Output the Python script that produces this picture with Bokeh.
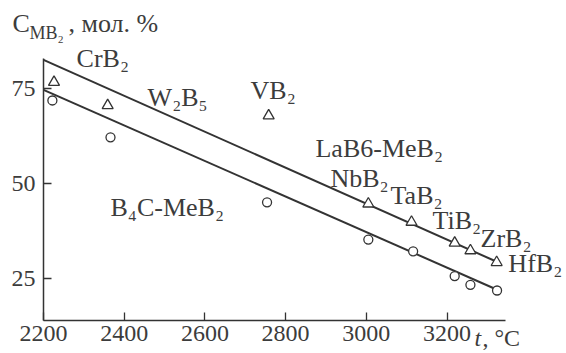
from bokeh.plotting import figure
from bokeh.models import Label, Range1d, FixedTicker
from bokeh.embed import file_html
from bokeh.resources import INLINE

# LaB6-MeB2 system (triangles)
lab6_temp = [2226, 2359, 2758, 3005, 3112, 3219, 3258, 3323]
lab6_conc = [76.6, 70.5, 67.8, 44.6, 39.8, 34.3, 32.3, 29.2]
# B4C-MeB2 system (circles)
b4c_temp = [2222, 2366, 2754, 3005, 3116, 3219, 3258, 3324]
b4c_conc = [71.8, 62.1, 45.0, 35.2, 32.1, 25.6, 23.3, 21.8]
# fitted lines
lab6_fit_temp = [2200, 3333]
lab6_fit_conc = [82.5, 28.9]
b4c_fit_temp = [2200, 3320]
b4c_fit_conc = [74.6, 22.2]

x_ticks = [2200, 2400, 2600, 2800, 3000, 3200]
y_ticks = [25, 50, 75]
x_axis_span = (2200, 3345)
y_axis_span = (13.9, 82.8)

label_texts = ["CrB₂", "W₂B₅", "VB₂", "LaB6-MeB₂", "NbB₂", "TaB₂", "TiB₂",
               "ZrB₂", "HfB₂", "B₄C-MeB₂"]
label_x = [2282, 2458, 2713, 2874, 2911, 3060, 3164, 3283, 3352, 2366]
label_y = [82.8, 72.6, 74.4, 59.2, 51.3, 46.8, 40.2, 35.5, 28.9, 43.6]

FONT = "Liberation Serif"
TXT = "#3c3c3c"
INK = "#333333"
FS = "26px"
TICK_FS = "24px"

# frame covers the whole canvas; axes are pinned inside it
p = figure(width=566, height=353,
           x_range=Range1d(2093.4, 3496.1), y_range=Range1d(5.22, 98.11),
           output_backend="svg", toolbar_location=None,
           min_border_left=0, min_border_right=0,
           min_border_top=0, min_border_bottom=0)
p.title.visible = False
p.outline_line_color = None
p.xgrid.visible = False
p.ygrid.visible = False
p.background_fill_color = "white"
p.border_fill_color = "white"

for ax in (p.xaxis[0], p.yaxis[0]):
    ax.axis_line_color = INK
    ax.axis_line_width = 1.5
    ax.major_tick_line_color = INK
    ax.major_tick_line_width = 1.3
    ax.major_tick_in = 8
    ax.major_tick_out = 0
    ax.minor_tick_line_color = None
    ax.major_label_text_font = FONT
    ax.major_label_text_font_size = TICK_FS
    ax.major_label_text_color = TXT
p.xaxis.ticker = FixedTicker(ticks=x_ticks)
p.yaxis.ticker = FixedTicker(ticks=y_ticks)
p.xaxis.fixed_location = y_axis_span[0]
p.yaxis.fixed_location = x_axis_span[0]
p.xaxis.bounds = x_axis_span
p.yaxis.bounds = y_axis_span
p.xaxis.major_label_standoff = 5
p.yaxis.major_label_standoff = 8

p.line(lab6_fit_temp, lab6_fit_conc, line_color=INK, line_width=2)
p.line(b4c_fit_temp, b4c_fit_conc, line_color=INK, line_width=2)
p.scatter(lab6_temp, lab6_conc, marker="triangle", size=11,
          fill_color="white", line_color=INK, line_width=1.3)
p.scatter(b4c_temp, b4c_conc, marker="circle", size=9,
          fill_color="white", line_color=INK, line_width=1.3)

for t, x, y in zip(label_texts, label_x, label_y):
    p.add_layout(Label(x=x, y=y, text=t, text_font=FONT, text_font_size=FS,
                       text_color=TXT, text_align="left", text_baseline="middle"))

# axis titles (screen units, frame = whole canvas)
def screen_label(x, y, text, size=FS, style="normal"):
    p.add_layout(Label(x=x, y=y, x_units="screen", y_units="screen", text=text,
                       text_font=FONT, text_font_size=size, text_font_style=style,
                       text_color=TXT, text_align="left", text_baseline="middle"))

screen_label(12, 330, "C")
screen_label(29, 321, "MB₂", size="18px")
screen_label(68, 330, ", мол. %")
screen_label(474, 16, "t", size=TICK_FS, style="italic")
screen_label(482, 16, ", °C", size=TICK_FS)

open("out.html", "w").write(file_html(p, INLINE))
